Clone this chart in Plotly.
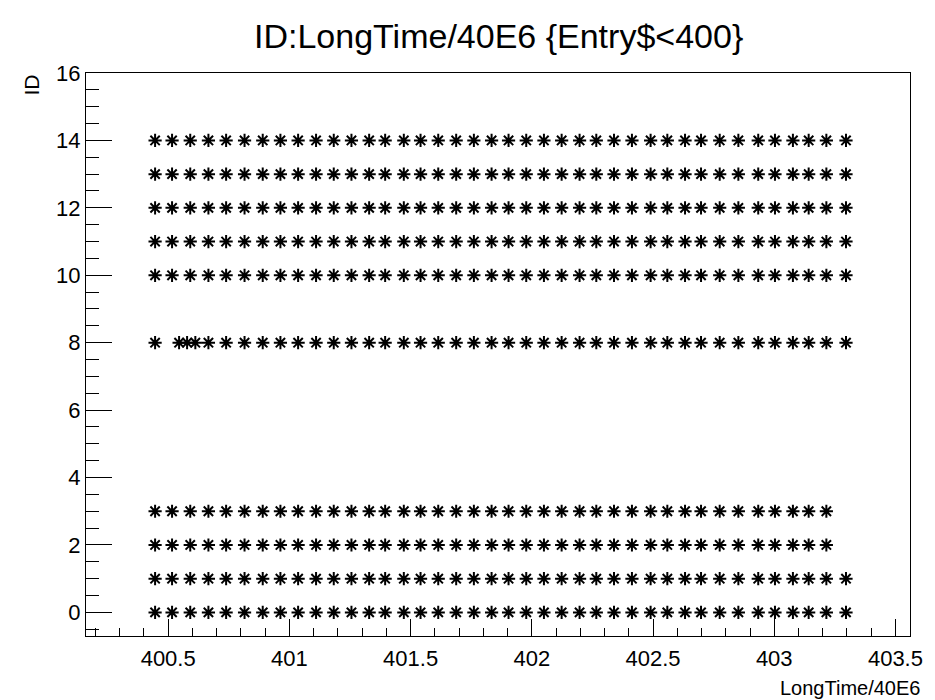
import plotly.graph_objects as go

# Time values (LongTime/40E6), common to most IDs
times = [400.446, 400.516, 400.591, 400.666, 400.739, 400.815, 400.890, 400.963,
         401.036, 401.110, 401.183, 401.256, 401.329, 401.395, 401.472, 401.541,
         401.614, 401.688, 401.761, 401.834, 401.904, 401.977, 402.050, 402.123,
         402.197, 402.266, 402.339, 402.413, 402.490, 402.559, 402.632, 402.698,
         402.775, 402.852, 402.934, 403.003, 403.077, 403.142, 403.215, 403.296]

ids_full = [0, 1, 10, 11, 12, 13, 14]      # all 40 entries
ids_short = [2, 3]                         # last entry missing
id8 = 8
times_id8 = [400.446, 400.545, 400.578, 400.612] + times[3:]

xs, ys = [], []
for i in ids_full:
    xs += times
    ys += [i] * len(times)
for i in ids_short:
    xs += times[:-1]
    ys += [i] * (len(times) - 1)
xs += times_id8
ys += [id8] * len(times_id8)

x_range = [400.161, 403.56]
y_range = [-0.7, 16]

title_text = "ID:LongTime/40E6 {Entry$<400}"
x_title = "LongTime/40E6"
y_title = "ID"

FONT = "Liberation Sans, Arial, Helvetica, sans-serif"

fig = go.Figure()
fig.add_trace(go.Scatter(
    x=xs, y=ys, mode="markers",
    marker=dict(symbol="asterisk-open", size=11, color="black",
                line=dict(width=2, color="black")),
    showlegend=False, hoverinfo="x+y"))

fig.update_layout(
    width=935, height=700,
    margin=dict(l=86, r=13, t=73, b=64),
    paper_bgcolor="white", plot_bgcolor="white",
    font=dict(family=FONT, color="black"),
    showlegend=False,
)

fig.update_xaxes(
    range=x_range, showgrid=False, zeroline=False,
    showline=True, linecolor="black", linewidth=1, mirror=True,
    ticks="inside", ticklen=17, tickwidth=1, tickcolor="black",
    tick0=400.5, dtick=0.5, tickformat="~g", ticklabelstandoff=3,
    tickfont=dict(family=FONT, size=22, color="black"),
    minor=dict(ticks="inside", ticklen=8, tickwidth=1, tickcolor="black",
               tick0=400.5, dtick=0.1, showgrid=False),
)
fig.update_yaxes(
    range=y_range, showgrid=False, zeroline=False,
    showline=True, linecolor="black", linewidth=1, mirror=True,
    ticks="inside", ticklen=26, tickwidth=1, tickcolor="black",
    tick0=0, dtick=2,
    tickfont=dict(family=FONT, size=22, color="black"),
    minor=dict(ticks="inside", ticklen=13, tickwidth=1, tickcolor="black",
               tick0=0, dtick=0.5, showgrid=False),
)

fig.add_annotation(text=title_text, xref="paper", yref="paper",
                   x=0.5, y=1, yshift=37, xanchor="center", yanchor="middle",
                   showarrow=False, font=dict(family=FONT, size=34, color="black"))
fig.add_annotation(text=x_title, xref="paper", yref="paper",
                   x=1, y=0, yshift=-52, xshift=12, xanchor="right", yanchor="middle",
                   showarrow=False, font=dict(family=FONT, size=20, color="black"))
fig.add_annotation(text=y_title, xref="paper", yref="paper",
                   x=0, y=1, xshift=-55, xanchor="center", yanchor="top",
                   textangle=-90,
                   showarrow=False, font=dict(family=FONT, size=21, color="black"))

fig.write_html("out.html")
